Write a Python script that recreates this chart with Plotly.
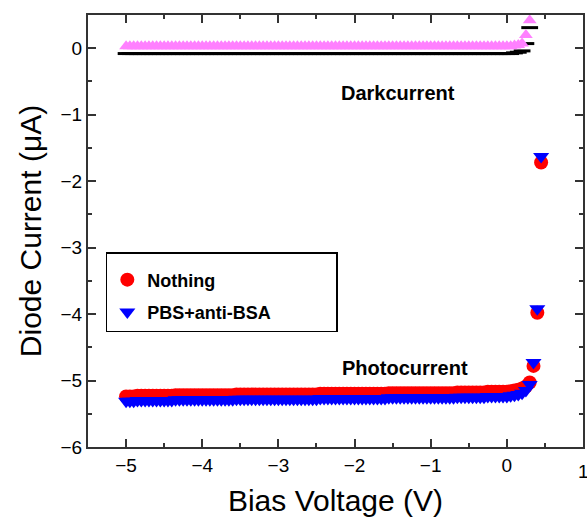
import plotly.graph_objects as go

# Bias sweep grid (V), 0.05 V steps from -5.00 to 0.45
bias_v = [round(-5 + 0.05 * i, 2) for i in range(110)]

# Photocurrent, "Nothing" (uA)
photo_nothing = (
    [-5.24, -5.24, -5.24, -5.23, -5.23, -5.23, -5.23, -5.23, -5.23, -5.23,
     -5.23, -5.23, -5.23, -5.22, -5.22, -5.22, -5.22, -5.22, -5.22, -5.22, -5.22]
    + [-5.22] * 8 + [-5.21] * 12
    + [-5.21] * 10 + [-5.20] * 10
    + [-5.20] * 8 + [-5.19] * 12
    + [-5.19] * 6 + [-5.18] * 8 + [-5.17] * 6
    + [-5.16, -5.15, -5.14, -5.12, -5.09, -5.03, -4.78, -3.98, -1.72]
)
# Photocurrent, "PBS+anti-BSA" (uA)
photo_pbs = (
    [-5.31, -5.31, -5.31, -5.30, -5.30, -5.30, -5.30, -5.30, -5.30, -5.30,
     -5.30, -5.30, -5.30, -5.29, -5.29, -5.29, -5.29, -5.29, -5.29, -5.29, -5.29]
    + [-5.29] * 8 + [-5.28] * 12
    + [-5.28] * 10 + [-5.27] * 10
    + [-5.27] * 8 + [-5.26] * 12
    + [-5.26] * 6 + [-5.25] * 8 + [-5.24] * 6
    + [-5.23, -5.22, -5.21, -5.19, -5.15, -5.06, -4.73, -3.92, -1.63]
)
# Dark current (uA), sweep ends at 0.35 V
dark_nothing = [-0.08] * 100 + [-0.08, -0.08, -0.07, -0.06, -0.04, 0.07, 0.31]
dark_pbs = [0.03] * 100 + [0.03, 0.03, 0.04, 0.05, 0.07, 0.20, 0.42]

n_dark = len(dark_pbs)
FONT = "Liberation Sans, Arial"
PAD = "\u00a0" * 12

fig = go.Figure()
fig.add_trace(go.Scatter(x=bias_v[:n_dark], y=dark_nothing, mode="markers",
                         marker=dict(symbol="line-ew", size=12,
                                     line=dict(color="black", width=3)),
                         showlegend=False))
fig.add_trace(go.Scatter(x=bias_v[:n_dark], y=dark_pbs, mode="markers",
                         marker=dict(symbol="triangle-up", size=12, color="#FF80FF"),
                         showlegend=False))
fig.add_trace(go.Scatter(x=bias_v, y=photo_nothing, mode="markers",
                         name="<b>Nothing</b>", legendgroup="a",
                         marker=dict(symbol="circle", size=14, color="#FF0000")))
fig.add_trace(go.Scatter(x=bias_v, y=photo_pbs, mode="markers",
                         name="<b>PBS+anti-BSA</b>" + PAD, legendgroup="b",
                         marker=dict(symbol="triangle-down", size=14, color="#0000FF")))

axis_common = dict(
    showline=True, linecolor="#333333", linewidth=2, mirror="allticks",
    ticks="inside", ticklen=8, tickwidth=2, tickcolor="#333333",
    showgrid=False, zeroline=False, automargin=False,
    tickfont=dict(family=FONT, size=19, color="black"),
    minor=dict(ticks="inside", ticklen=4, tickwidth=1.5, tickcolor="#333333", dtick=0.5),
)

fig.update_xaxes(range=[-5.5, 1], dtick=1, tick0=0,
                 title=dict(text="Bias Voltage (V)", standoff=18,
                            font=dict(family=FONT, size=30, color="black")),
                 **axis_common)
fig.update_yaxes(range=[-6, 0.5], dtick=1, tick0=0,
                 title=dict(text="Diode Current (μA)", standoff=10,
                            font=dict(family=FONT, size=30, color="black")),
                 **axis_common)

fig.add_annotation(x=-1.43, y=-0.68, text="<b>Darkcurrent</b>", showarrow=False,
                   font=dict(family=FONT, size=20, color="black"))
fig.add_annotation(x=-1.34, y=-4.81, text="<b>Photocurrent</b>", showarrow=False,
                   font=dict(family=FONT, size=20, color="black"))
# tick label at the very right edge (partly cut, as in the original)
fig.add_annotation(x=1, y=0, xref="x", yref="paper", yanchor="top", yshift=-12,
                   text="1", showarrow=False,
                   font=dict(family=FONT, size=19, color="black"))

fig.update_layout(
    width=587, height=517,
    margin=dict(l=88, r=4, t=15, b=70),
    plot_bgcolor="white", paper_bgcolor="white",
    legend=dict(x=0.036, y=0.451, xanchor="left", yanchor="top",
                bgcolor="white", bordercolor="black", borderwidth=1.5,
                font=dict(family=FONT, size=18, color="black"),
                title=dict(text=" ", font=dict(size=6)),
                tracegroupgap=6, itemsizing="trace"),
)

fig.write_html("out.html", config={"displayModeBar": False},
               post_script="document.body.style.margin='0';document.body.style.overflow='hidden';")
